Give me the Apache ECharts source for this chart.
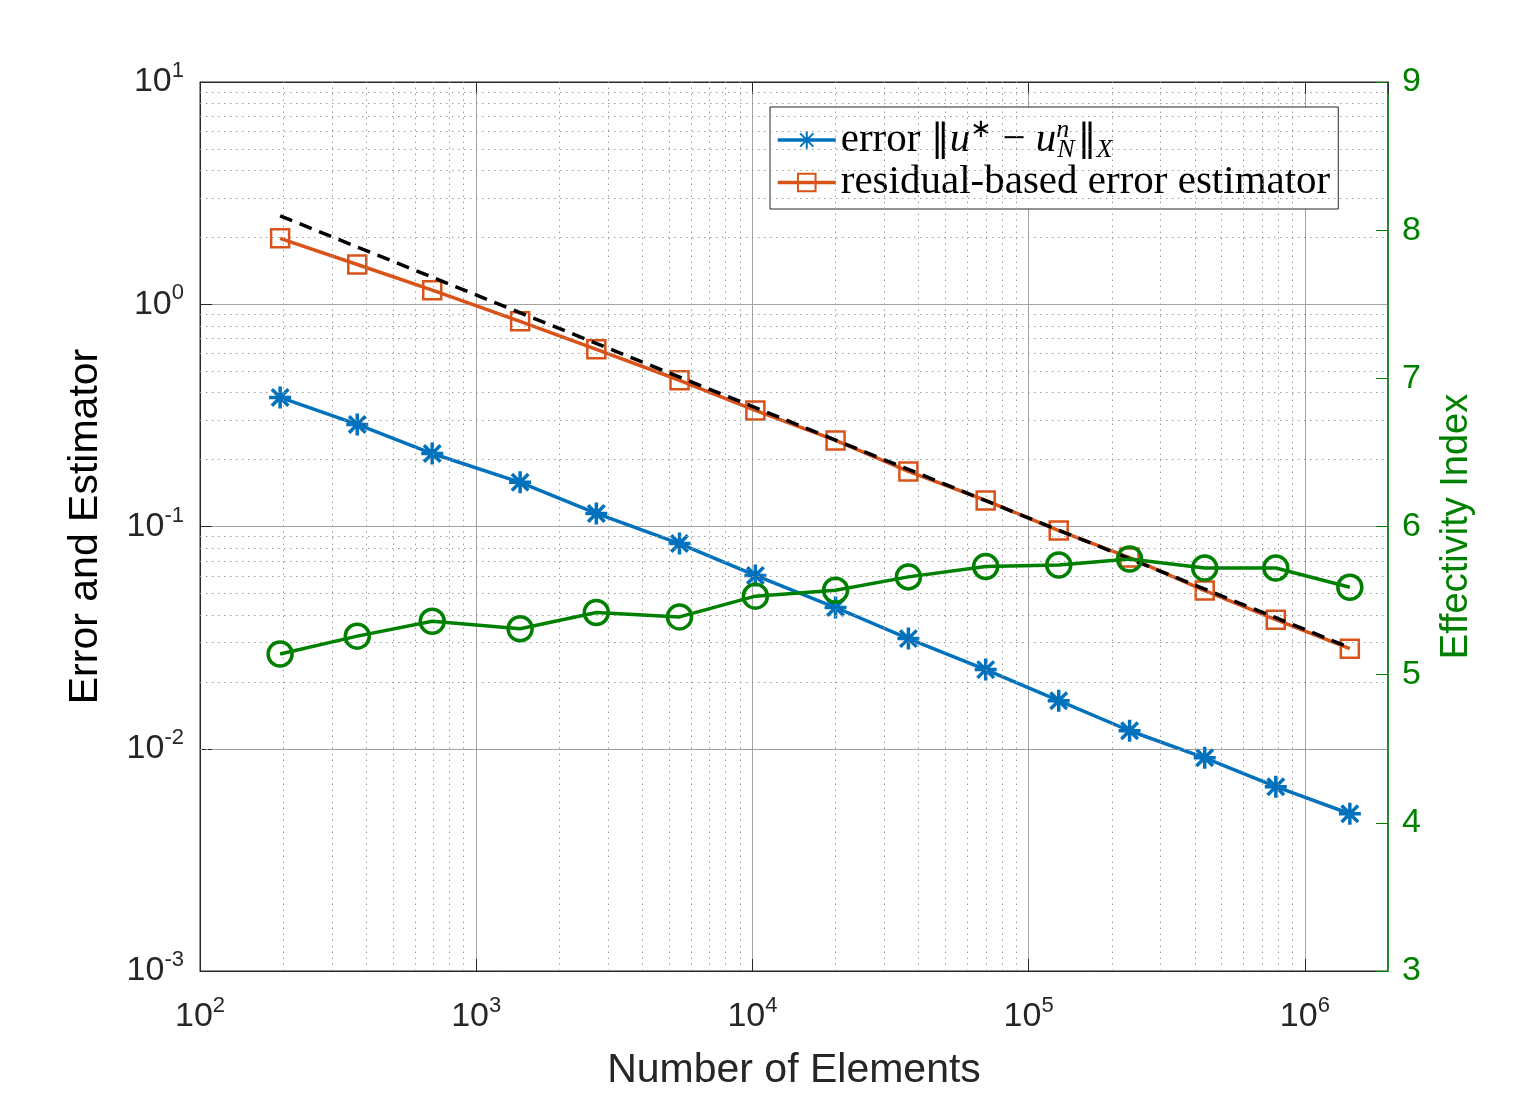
<!DOCTYPE html>
<html>
<head>
<meta charset="utf-8">
<script src="https://cdn.jsdelivr.net/npm/echarts@6/dist/echarts.min.js"></script>
<style>
  html, body { margin: 0; padding: 0; background: #fff; }
</style>
</head>
<body>
<!-- chart container -->
<div id="chart" style="width:1535px;height:1097px;"></div>
<script type="text/javascript">
    // data
    var nElements = [195, 371, 693, 1442, 2722, 5445, 10250, 20000, 36700, 69900, 128500, 232000, 434000, 785000, 1455000];
    var errorVals = [0.381, 0.288, 0.213, 0.158, 0.1145, 0.0838, 0.0602, 0.0432, 0.0313, 0.0227, 0.01645, 0.01205, 0.0091, 0.00675, 0.0051];
    var estimatorVals = [1.98, 1.51, 1.157, 0.838, 0.627, 0.455, 0.333, 0.244, 0.177, 0.131, 0.0959, 0.0725, 0.0515, 0.0381, 0.0282];
    var effectivity = [5.14, 5.26, 5.36, 5.31, 5.42, 5.39, 5.53, 5.57, 5.66, 5.73, 5.74, 5.78, 5.72, 5.72, 5.59];
    // reference slope line (end points)
    var refX = [195, 1455000];
    var refY = [2.5, 0.0285];

    var blue = '#0072BD', orange = '#D95319', green = '#008000', dark = '#262626';
    var sans = 'Liberation Sans', serif = 'Liberation Serif';

    function pairs(xs, ys) {
        var out = [];
        for (var i = 0; i < xs.length; i++) out.push([xs[i], ys[i]]);
        return out;
    }

    // dotted minor grid lines at 2..9 x 10^k
    var minorLines = [];
    for (var k = 2; k <= 5; k++) {
        for (var m = 2; m <= 9; m++) minorLines.push({ xAxis: m * Math.pow(10, k) });
    }
    for (var k2 = -3; k2 <= 0; k2++) {
        for (var m2 = 2; m2 <= 9; m2++) minorLines.push({ yAxis: m2 * Math.pow(10, k2) });
    }

    // 10^n labels
    function powLabel(v) {
        var e = Math.log10(v);
        if (Math.abs(e - Math.round(e)) > 0.01) return '';
        return '{b|10}{s|' + Math.round(e) + '}';
    }
    var powRich = {
        b: { fontFamily: sans, fontSize: 34, color: dark, lineHeight: 44 },
        s: { fontFamily: sans, fontSize: 22, color: dark, lineHeight: 22, verticalAlign: 'top' }
    };

    var asterisk = 'path://M0,-10L0,10M-10,0L10,0M-7.5,-7.5L7.5,7.5M-7.5,7.5L7.5,-7.5';

    var chart = echarts.init(document.getElementById('chart'));

    var option = {
        backgroundColor: '#fff',
        animation: false,
        grid: {
            left: 200, right: 147, top: 82, bottom: 126,
            show: true, borderColor: dark, borderWidth: 1
        },
        legend: {
            orient: 'vertical',
            left: 770, top: 107,
            data: ['error', 'estimator'],
            backgroundColor: '#fff',
            borderColor: dark, borderWidth: 1,
            padding: [10, 8, 6, 6],
            itemWidth: 58, itemHeight: 22, itemGap: -1,
            lineStyle: { width: 3.5 },
            formatter: function (name) {
                if (name === 'error') {
                    return '{t|error }{bar|‖}{i|u}{sp|∗}{t| − }{i|u}{sp2|n}{sb|N}{bar|‖}{sb|X}';
                }
                return '{t|residual-based error estimator}';
            },
            textStyle: {
                rich: {
                    t: { fontFamily: serif, fontSize: 41, color: '#000', lineHeight: 46 },
                    bar: { fontFamily: 'DejaVu Serif', fontSize: 38, color: '#000', lineHeight: 46 },
                    i: { fontFamily: serif, fontSize: 41, color: '#000', lineHeight: 46, fontStyle: 'italic' },
                    sp: { fontFamily: serif, fontSize: 26, color: '#000', lineHeight: 26, verticalAlign: 'top' },
                    sp2: { fontFamily: serif, fontSize: 26, color: '#000', lineHeight: 26, verticalAlign: 'top', fontStyle: 'italic', width: 1 },
                    sb: { fontFamily: serif, fontSize: 26, color: '#000', lineHeight: 24, verticalAlign: 'bottom', fontStyle: 'italic', padding: [0, 3, 0, 0] }
                }
            }
        },
        xAxis: [{
            type: 'log', logBase: 10, min: 100, max: 2000000,
            name: 'Number of Elements',
            nameLocation: 'middle', nameGap: 79,
            nameTextStyle: { fontFamily: sans, fontSize: 41, color: dark },
            axisLine: { lineStyle: { color: dark, width: 1 } },
            axisTick: { inside: true, length: 12, lineStyle: { color: dark } },
            axisLabel: { margin: 24, formatter: powLabel, rich: powRich, showMaxLabel: false },
            splitLine: { show: true, lineStyle: { color: '#a3a3a3', width: 1 } }
        }, {
            // top box edge with ticks
            type: 'log', logBase: 10, min: 100, max: 2000000, position: 'top',
            axisLine: { lineStyle: { color: dark, width: 1 } },
            axisTick: { inside: true, length: 12, lineStyle: { color: dark } },
            axisLabel: { show: false },
            splitLine: { show: false }
        }],
        yAxis: [{
            type: 'log', logBase: 10, min: 0.001, max: 10,
            name: 'Error and Estimator',
            nameLocation: 'middle', nameGap: 94,
            nameTextStyle: { fontFamily: sans, fontSize: 41, color: '#000' },
            axisLine: { lineStyle: { color: dark, width: 1 } },
            axisTick: { inside: true, length: 12, lineStyle: { color: dark } },
            axisLabel: { margin: 16, formatter: powLabel, rich: powRich },
            splitLine: { show: true, lineStyle: { color: '#a3a3a3', width: 1 } }
        }, {
            type: 'value', min: 3, max: 9, interval: 1,
            position: 'right',
            name: 'Effectivity Index',
            nameLocation: 'middle', nameGap: 50, nameRotate: 90,
            nameTextStyle: { fontFamily: sans, fontSize: 38, color: green },
            axisLine: { show: true, lineStyle: { color: green, width: 1.5 } },
            axisTick: { inside: true, length: 12, lineStyle: { color: green } },
            axisLabel: { margin: 14, fontFamily: sans, fontSize: 34, color: green },
            splitLine: { show: false }
        }],
        series: [{
            // minor grid
            name: 'minor', type: 'line', data: [], silent: true, z: 1,
            markLine: {
                silent: true, symbol: 'none', animation: false,
                label: { show: false },
                lineStyle: { color: '#9a9a9a', width: 1, type: [1.5, 4.5] },
                emphasis: { disabled: true },
                data: minorLines
            }
        }, {
            name: 'error', type: 'line', yAxisIndex: 0, z: 4,
            data: pairs(nElements, errorVals),
            symbol: asterisk, symbolSize: 22,
            lineStyle: { color: blue, width: 3.5 },
            itemStyle: { color: 'none', borderColor: blue, borderWidth: 3.5 }
        }, {
            name: 'estimator', type: 'line', yAxisIndex: 0, z: 4,
            data: pairs(nElements, estimatorVals),
            symbol: 'rect', symbolSize: 18,
            lineStyle: { color: orange, width: 3.5 },
            itemStyle: { color: 'none', borderColor: orange, borderWidth: 2.5 }
        }, {
            name: 'slope', type: 'line', yAxisIndex: 0, z: 5,
            data: pairs(refX, refY),
            symbol: 'none',
            lineStyle: { color: '#000', width: 3.5, type: [13, 8] }
        }, {
            name: 'effectivity', type: 'line', yAxisIndex: 1, z: 6,
            data: pairs(nElements, effectivity),
            symbol: 'circle', symbolSize: 24,
            lineStyle: { color: green, width: 3.5 },
            itemStyle: { color: 'none', borderColor: green, borderWidth: 3.5 }
        }]
    };

    chart.setOption(option);
</script>
</body>
</html>
